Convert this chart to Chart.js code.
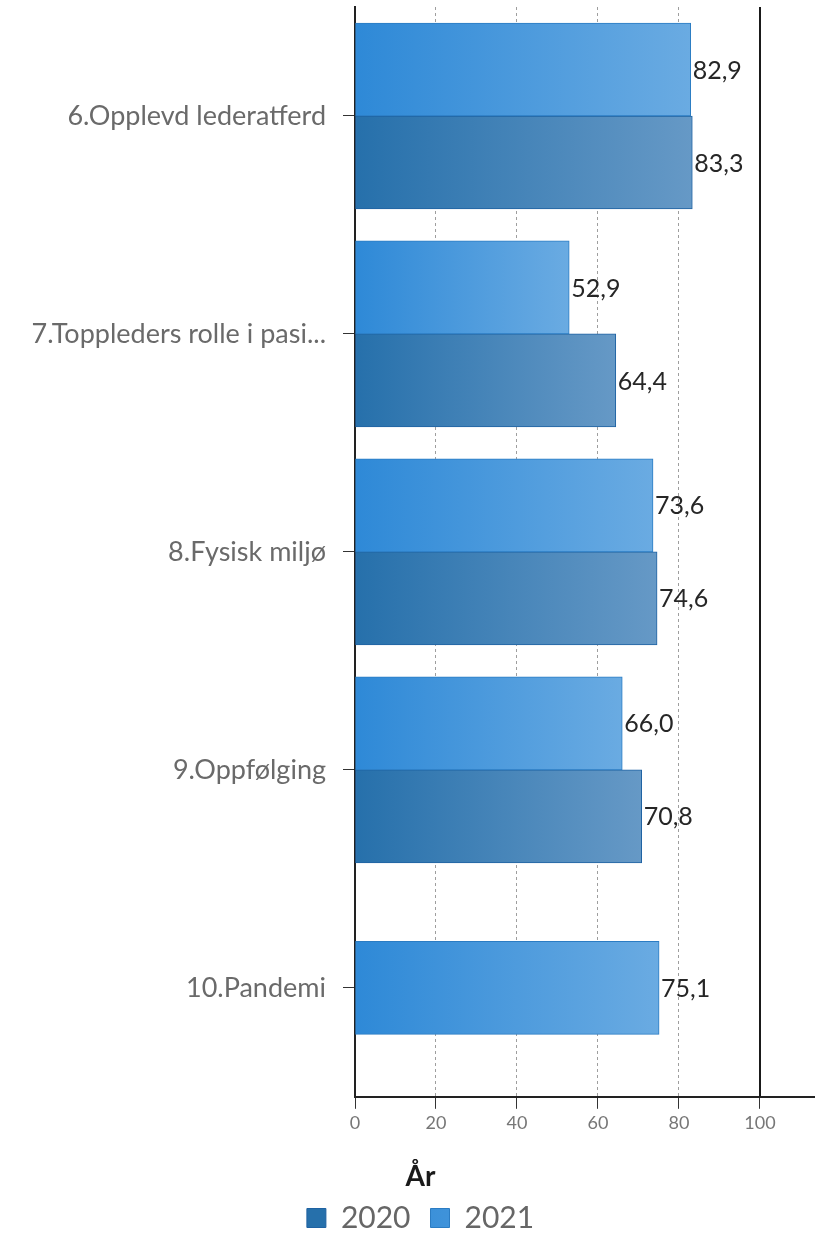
<!DOCTYPE html>
<html><head><meta charset="utf-8">
<script src="https://cdn.jsdelivr.net/npm/chart.js@4/dist/chart.umd.min.js"></script>
<style>html,body{margin:0;padding:0;background:#fff}#wrap{width:815px;height:1236px;position:relative}</style>
</head><body><div id="wrap"><canvas id="c"></canvas></div>
<script>
const categories = ['6.Opplevd lederatferd','7.Toppleders rolle i pasi...','8.Fysisk miljø','9.Oppfølging','10.Pandemi'];
const values2020 = [83.3, 64.4, 74.6, 70.8, null];
const values2021 = [82.9, 52.9, 73.6, 66.0, 75.1];
const xTicks = [0, 20, 40, 60, 80, 100];
const seriesNames = ['2020', '2021'];
const legendTitle = 'År';

const FONT = 'Lato';

function grad(c0, c1) {
  return (ctx) => {
    const chart = ctx.chart;
    if (!chart.chartArea || ctx.raw == null || ctx.type !== 'data') return c0;
    const xs = chart.scales.x;
    const x0 = xs.getPixelForValue(0), x1 = xs.getPixelForValue(ctx.raw);
    if (!isFinite(x0) || !isFinite(x1) || x1 - x0 < 1) return c0;
    const g = chart.ctx.createLinearGradient(x0, 0, x1, 0);
    g.addColorStop(0, c0); g.addColorStop(1, c1);
    return g;
  };
}

const valueLabels = {
  id: 'valueLabels',
  afterDatasetsDraw(chart) {
    const ctx = chart.ctx;
    ctx.save();
    ctx.font = '25px ' + FONT;
    ctx.fillStyle = '#262626';
    ctx.textBaseline = 'middle';
    ctx.textAlign = 'left';
    chart.data.datasets.forEach((ds, i) => {
      const meta = chart.getDatasetMeta(i);
      if (meta.hidden) return;
      meta.data.forEach((bar, j) => {
        const v = ds.data[j];
        if (v == null) return;
        ctx.fillText(v.toFixed(1).replace('.', ','), bar.x + 2, bar.y + 1);
      });
    });
    ctx.restore();
  }
};

const refLine = {
  id: 'refLine',
  afterDraw(chart) {
    const ctx = chart.ctx, a = chart.chartArea;
    const x = Math.round(chart.scales.x.getPixelForValue(100));
    ctx.save();
    ctx.strokeStyle = '#1a1a1a';
    ctx.lineWidth = 2;
    ctx.beginPath();
    ctx.moveTo(x, a.top);
    ctx.lineTo(x, a.bottom);
    ctx.stroke();
    ctx.restore();
  }
};

new Chart(document.getElementById('c'), {
  type: 'bar',
  data: {
    labels: categories,
    datasets: [
      {
        label: seriesNames[1],
        data: values2021,
        backgroundColor: grad('#2e89d7', '#6aabe2'),
        borderColor: '#2b7cc3',
        borderWidth: 1,
        borderSkipped: false
      },
      {
        label: seriesNames[0],
        data: values2020,
        backgroundColor: grad('#2670ab', '#6699c6'),
        borderColor: '#1f62a2',
        borderWidth: 1,
        borderSkipped: false
      }
    ]
  },
  options: {
    indexAxis: 'y',
    responsive: true,
    maintainAspectRatio: false,
    animation: false,
    skipNull: true,
    barThickness: 93,
    layout: { padding: { top: 7, right: 0, left: 26, bottom: -7 } },
    scales: {
      x: {
        type: 'linear',
        position: 'bottom',
        min: 0,
        max: 113.6,
        z: 1,
        afterBuildTicks: (s) => { s.ticks = xTicks.map(v => ({ value: v })); },
        grid: {
          color: (c) => (c.tick && (c.tick.value === 0 || c.tick.value === 100)) ? 'rgba(0,0,0,0)' : 'rgba(0,0,0,0.38)',
          lineWidth: 1,
          tickColor: '#333',
          tickLength: 12,
          drawTicks: true
        },
        border: { display: true, color: '#222', width: 2, dash: [3, 3] },
        ticks: {
          font: { family: FONT, size: 18 },
          color: '#777',
          padding: 4,
          maxRotation: 0,
          callback: (v) => String(v)
        }
      },
      y: {
        type: 'category',
        offset: true,
        afterFit: (s) => { s.width = 329; s.paddingTop = 0; s.paddingBottom = 0; },
        grid: {
          drawOnChartArea: false,
          drawTicks: true,
          tickLength: 12,
          tickColor: '#333',
          offset: false
        },
        border: { display: true, color: '#222', width: 2 },
        ticks: {
          font: { family: FONT, size: 27 },
          color: '#6a6a6a',
          padding: 17
        }
      }
    },
    plugins: {
      legend: {
        position: 'bottom',
        reverse: true,
        title: {
          display: true,
          text: legendTitle,
          color: '#1a1a1a',
          font: { family: FONT, size: 28, weight: 'bold' },
          padding: { top: 25, bottom: -14 }
        },
        labels: {
          font: { family: FONT, size: 30 },
          color: '#666',
          boxWidth: 19,
          boxHeight: 19,
          padding: 20
        }
      },
      tooltip: { enabled: false }
    }
  },
  plugins: [valueLabels, refLine]
});
</script>
</body></html>
